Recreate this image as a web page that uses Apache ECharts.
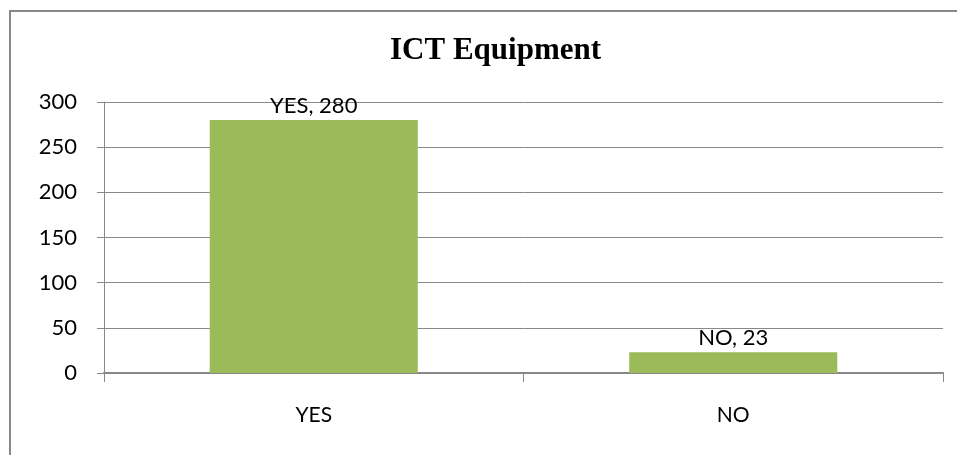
<!DOCTYPE html>
<html>
<head>
<meta charset="utf-8">
<script src="https://cdn.jsdelivr.net/npm/echarts@6/dist/echarts.min.js"></script>
<style>html,body{margin:0;padding:0;background:#fff}#c{width:957px;height:455px}</style>
</head>
<body>
<div id="c"></div>
<script>
const titleText = 'ICT Equipment';
const categories = ['YES', 'NO'];
const values = [280, 23];
const yTicks = [0, 50, 100, 150, 200, 250, 300];

const FONT = 'Lato, "Open Sans", sans-serif';
const chart = echarts.init(document.getElementById('c'), null, {renderer: 'canvas'});
chart.setOption({
  animation: false,
  backgroundColor: '#ffffff',
  graphic: [{
    type: 'rect', z: -1, silent: true,
    shape: {x: 10, y: 11, width: 1000, height: 500},
    style: {fill: 'none', stroke: '#888888', lineWidth: 2}
  }],
  title: {
    text: titleText,
    left: 385, top: 30,
    textStyle: {fontFamily: '"Liberation Serif", "Times New Roman", serif', fontWeight: 'bold', fontSize: 31, color: '#000'}
  },
  grid: {left: 104, right: 14, top: 102, bottom: 82, containLabel: false},
  xAxis: {
    type: 'category',
    data: categories,
    boundaryGap: true,
    axisLine: {lineStyle: {color: '#888888', width: 2}},
    axisTick: {show: true, inside: false, length: 9, alignWithLabel: false, lineStyle: {color: '#888888', width: 1}},
    axisLabel: {margin: 32, fontFamily: FONT, fontSize: 21, color: '#000'}
  },
  yAxis: {
    type: 'value',
    min: yTicks[0], max: yTicks[yTicks.length - 1], interval: yTicks[1] - yTicks[0],
    axisLine: {show: true, lineStyle: {color: '#888888', width: 1}},
    axisTick: {show: true, length: 7, lineStyle: {color: '#888888'}},
    splitLine: {show: true, lineStyle: {color: '#888888', width: 1}},
    axisLabel: {margin: 27, fontFamily: FONT, fontSize: 22, color: '#000'}
  },
  series: [{
    type: 'bar',
    data: values,
    barWidth: '49.6%',
    itemStyle: {color: '#9BBB59'},
    label: {
      show: true, position: 'top', distance: 3,
      formatter: p => p.name + ', ' + p.value,
      fontFamily: FONT, fontSize: 22, color: '#000'
    }
  }]
});
</script>
</body>
</html>
